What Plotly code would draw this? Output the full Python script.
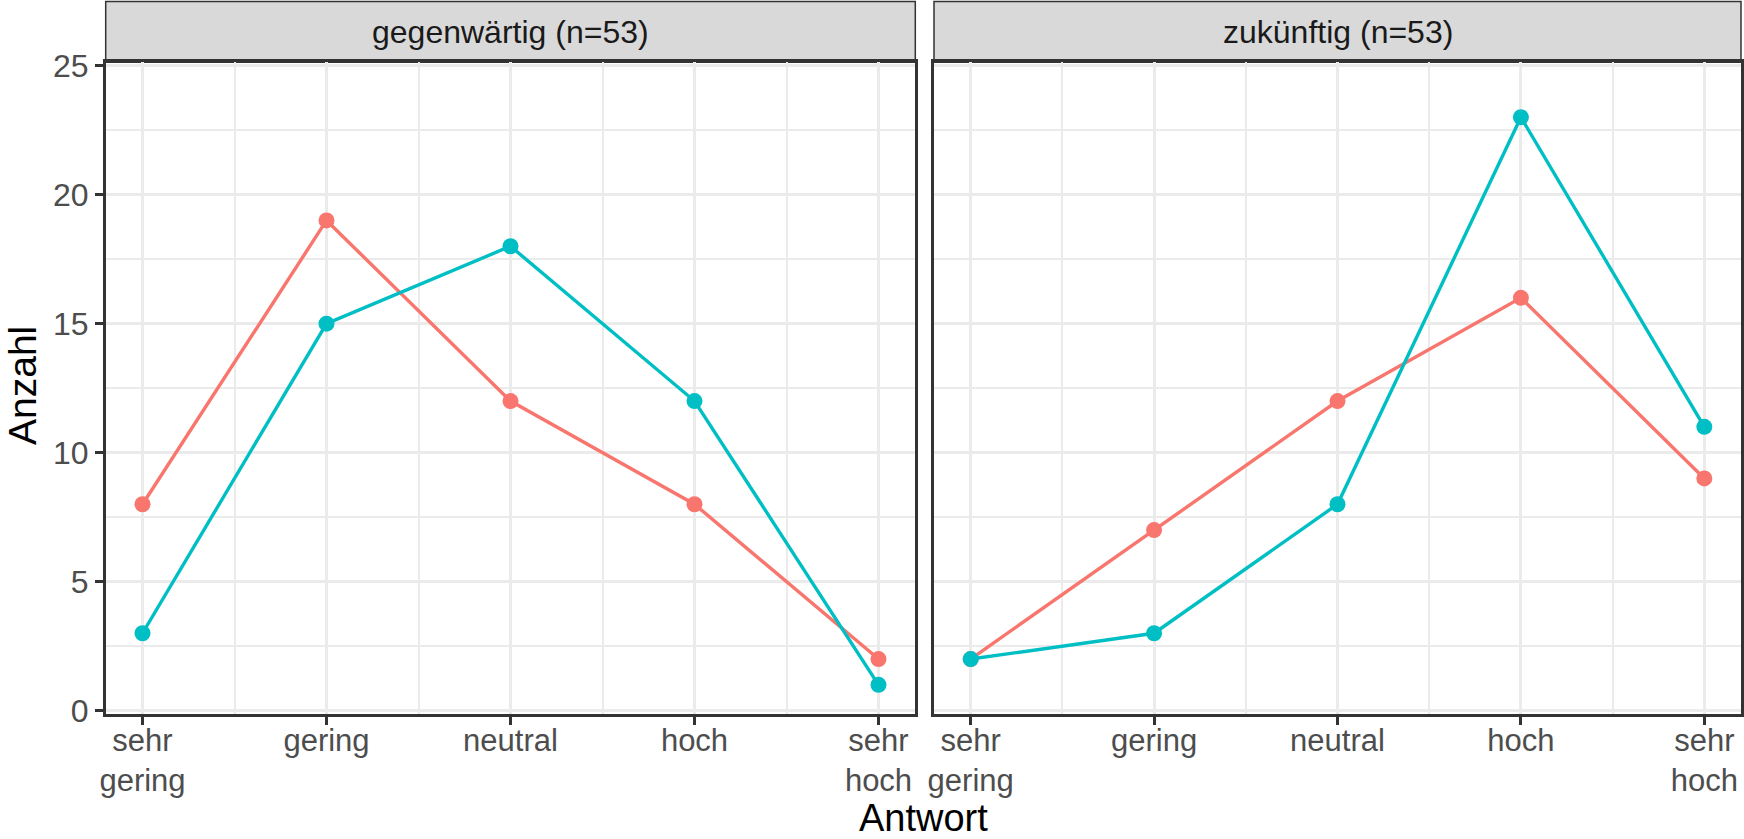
import plotly.graph_objects as go

# Antwortkategorien (1..5 auf der x-Achse)
kategorien = ["sehr<br>gering", "gering", "neutral", "hoch", "sehr<br>hoch"]
positionen = [1, 2, 3, 4, 5]

panel_titel = ["gegenwärtig (n=53)", "zukünftig (n=53)"]

# Anzahl je Kategorie, rote und türkise Reihe je Panel
gegenwaertig_rot = [8, 19, 12, 8, 2]
gegenwaertig_tuerkis = [3, 15, 18, 12, 1]
zukuenftig_rot = [2, 7, 12, 16, 9]
zukuenftig_tuerkis = [2, 3, 8, 23, 11]

y_ticks = [0, 5, 10, 15, 20, 25]

ROT = "#F8766D"
TUERKIS = "#00BFC4"
FONT = "Liberation Sans"

W, H = 1744, 839
panel_x = [(105.7, 915.3), (934.0, 1741.0)]
panel_top, panel_bottom = 62.3, 714.0
strip_top = 1.5

fig = go.Figure()

serien = [
    (gegenwaertig_rot, ROT, "x", "y"),
    (gegenwaertig_tuerkis, TUERKIS, "x", "y"),
    (zukuenftig_rot, ROT, "x2", "y2"),
    (zukuenftig_tuerkis, TUERKIS, "x2", "y2"),
]
for werte, farbe, xa, ya in serien:
    fig.add_trace(go.Scatter(
        x=positionen, y=werte, xaxis=xa, yaxis=ya,
        mode="lines+markers",
        line=dict(color=farbe, width=3.4),
        marker=dict(color=farbe, size=16),
        showlegend=False, hoverinfo="skip",
    ))

def xdom(i):
    a, b = panel_x[i]
    return [a / W, b / W]

ydom = [1 - panel_bottom / H, 1 - panel_top / H]

achse_x = dict(
    range=[0.8, 5.2],
    tickmode="array", tickvals=positionen, ticktext=kategorien,
    showgrid=True, gridcolor="#EBEBEB", gridwidth=2.5,
    minor=dict(tickvals=[1.5, 2.5, 3.5, 4.5], showgrid=True,
               gridcolor="#EBEBEB", gridwidth=1.5),
    showline=True, mirror=True, linecolor="#333333", linewidth=2.5,
    ticks="outside", ticklen=8, tickwidth=2.5, tickcolor="#333333",
    tickfont=dict(family=FONT, size=31, color="#4D4D4D"),
    ticklabelstandoff=-11,
    zeroline=False, fixedrange=True, automargin=False,
)
achse_y = dict(
    range=[-0.13, 25.13],
    tickmode="array", tickvals=y_ticks,
    showgrid=True, gridcolor="#EBEBEB", gridwidth=2.5,
    minor=dict(tickvals=[2.5, 7.5, 12.5, 17.5, 22.5], showgrid=True,
               gridcolor="#EBEBEB", gridwidth=1.5),
    showline=True, mirror=True, linecolor="#333333", linewidth=2.5,
    zeroline=False, fixedrange=True, automargin=False,
    domain=ydom,
)

fig.update_layout(
    width=W, height=H,
    margin=dict(l=0, r=0, t=0, b=0, autoexpand=False),
    paper_bgcolor="white", plot_bgcolor="white",
    xaxis=dict(achse_x, domain=xdom(0), anchor="y"),
    xaxis2=dict(achse_x, domain=xdom(1), anchor="y2"),
    yaxis=dict(achse_y, anchor="x", ticks="outside", ticklen=8, tickwidth=2.5,
               tickcolor="#333333",
               tickfont=dict(family=FONT, size=32, color="#4D4D4D")),
    yaxis2=dict(achse_y, anchor="x2", showticklabels=False, ticks=""),
    font=dict(family=FONT),
)

# Facettenköpfe
for i, titel in enumerate(panel_titel):
    a, b = panel_x[i]
    fig.add_shape(type="rect", xref="paper", yref="paper",
                  x0=a / W, x1=b / W, y0=1 - panel_top / H, y1=1 - strip_top / H,
                  fillcolor="#D9D9D9", line=dict(color="#333333", width=1.5),
                  layer="below")
    fig.add_annotation(xref="paper", yref="paper",
                       x=(a + b) / 2 / W, y=1 - (strip_top + panel_top) / 2 / H,
                       text=titel, showarrow=False,
                       font=dict(family=FONT, size=32, color="#1A1A1A"),
                       xanchor="center", yanchor="middle")

# Achsentitel
fig.add_annotation(xref="paper", yref="paper", x=923 / W, y=1 - 818 / H,
                   text="Antwort", showarrow=False,
                   font=dict(family=FONT, size=38, color="black"),
                   xanchor="center", yanchor="middle")
fig.add_annotation(xref="paper", yref="paper", x=22 / W, y=1 - 386 / H,
                   text="Anzahl", showarrow=False, textangle=-90,
                   font=dict(family=FONT, size=39, color="black"),
                   xanchor="center", yanchor="middle")

fig.write_html("out.html")
